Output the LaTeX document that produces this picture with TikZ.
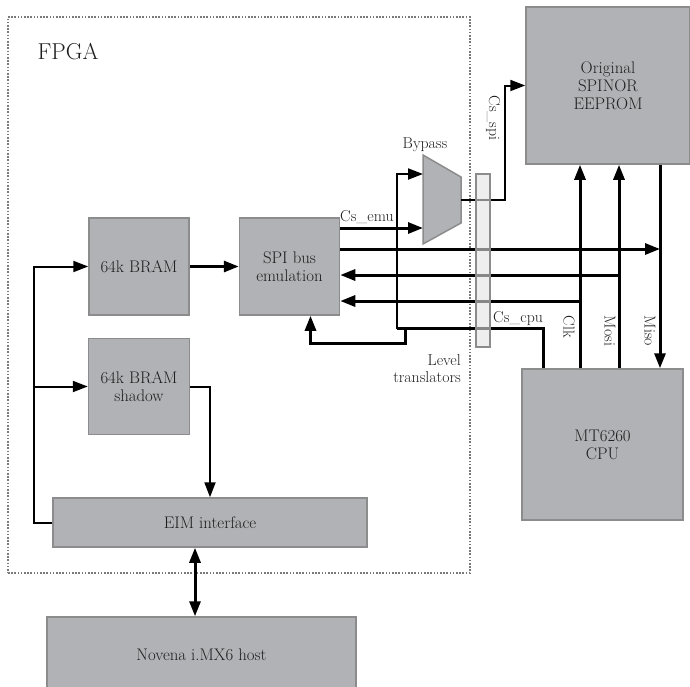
\documentclass[tikz,border=0pt]{standalone}
\usepackage{tikz}
\usetikzlibrary{arrows.meta,positioning}
\definecolor{boxfill}{HTML}{B1B2B5}
\definecolor{boxline}{HTML}{8C8C8C}
\definecolor{boxtext}{HTML}{1E1E1E}
\definecolor{barfill}{HTML}{E2E2E2}
\definecolor{dotline}{HTML}{7A7A7A}

\begin{document}
\begin{tikzpicture}[x=1pt, y=-1pt, >={Triangle[length=15pt,width=11pt]},
  blk/.style={draw=boxline, fill=boxfill, line width=1.5pt, text=boxtext, align=center, inner sep=0pt, font=\fontsize{16.8}{18}\selectfont},
  lbl/.style={text=boxtext, inner sep=0pt, font=\fontsize{15.8}{17.5}\selectfont},
  sig/.style={line width=3pt},
  wire/.style={line width=2pt}]
\clip (0,0) rectangle (690,686);
% FPGA frame
\node[draw=dotline, line width=1.8pt, dash pattern=on 1.6pt off 1.6pt, minimum width=462pt, minimum height=556pt, inner sep=0pt] (fpga) at (239,295) {};
\node[text=boxtext, inner sep=0pt, font=\fontsize{23}{26}\selectfont] (fpgalbl) at (68,52) {FPGA};
% blocks
\node[blk, minimum width=100pt, minimum height=97pt] (bram) at (139,266.5) {64k BRAM};
\node[blk, minimum width=100pt, minimum height=97pt, right=49pt of bram] (spi) {SPI bus\\emulation};
\node[blk, minimum width=101pt, minimum height=96pt, below=22pt of bram] (shadow) {64k BRAM\\shadow};
\node[blk, minimum width=314pt, minimum height=49pt] (eim) at (210,522.5) {EIM interface};
\node[blk, minimum width=309pt, minimum height=76pt] (host) at (201.5,655) {Novena i.MX6 host};
\node[blk, minimum width=164pt, minimum height=157pt] (flash) at (608,85.5) {Original\\SPINOR\\EEPROM};
\node[blk, minimum width=161pt, minimum height=151pt] (cpu) at (602.5,444.5) {MT6260\\CPU};
% bypass mux
\draw[fill=boxfill, draw=boxline, line width=1.5pt] (423,155) -- (461,177) -- (461,223) -- (423,244) -- cycle;
\coordinate (byp-a) at (423,174);
\coordinate (byp-b) at (423,228);
\coordinate (byp-o) at (461,200);
\node[lbl, anchor=base] (byplbl) at (425,148) {Bypass};
% inside FPGA
\draw[wire,->] (eim.west) -- ++(-18pt,0) coordinate (bus) |- (bram.west);
\draw[wire,->] (bus |- shadow.west) -- (shadow.west);
\draw[wire,->] (shadow.east) -| (eim.north);
\draw[sig,->] (bram) -- (spi);
\draw[sig,<->] ([xshift=-15pt]eim.south) -- ([xshift=-15pt]eim.south |- host.north);
% SPI signals
\coordinate (miso) at (660,249);
\coordinate (mosi) at (619,275);
\coordinate (clk) at (580,301);
\coordinate (cs) at (543,328);
\coordinate (csturn) at (397,328);
\coordinate (csret) at (405,343);
\coordinate (spics) at (505,200);
\draw[sig,->] (spi.east |- byp-b) -- (byp-b);
\node[lbl, anchor=base west] (csemu) at (340,221) {Cs\_emu};
\draw[wire,->] (byp-o) -- (spics) |- (flash.west);
\node[lbl, rotate=-90] (csspi) at (493,118) {Cs\_spi};
\draw[sig,->] (spi.east |- miso) -- (miso);
\draw[sig,->] (flash.south -| miso) -- (cpu.north -| miso);
\draw[sig,->] (mosi) -- (spi.east |- mosi);
\draw[sig,->] (cpu.north -| mosi) -- (flash.south -| mosi);
\draw[sig,->] (clk) -- (spi.east |- clk);
\draw[sig,->] (cpu.north -| clk) -- (flash.south -| clk);
\draw[sig] (cpu.north -| cs) -- (cs) -- (csturn);
\draw[wire,->,line cap=rect] (csturn) |- (byp-a);
\draw[sig,->] (csret |- cs) -- (csret) -| ([xshift=21pt]spi.south);
% level translators
\node[draw=boxline, fill=barfill, fill opacity=0.6, line width=1.2pt, minimum width=14pt, minimum height=173pt, inner sep=0pt] (lvl) at (483,260.5) {};
\node[lbl, align=right, anchor=north east] (lvllbl) at (461,354) {Level\\translators};
\node[lbl, anchor=base west] (cscpu) at (493,322) {Cs\_cpu};
\node[lbl, rotate=-90] (clklbl) at (569,327) {Clk};
\node[lbl, rotate=-90] (mosilbl) at (610,331) {Mosi};
\node[lbl, rotate=-90] (misolbl) at (650,331) {Miso};
\end{tikzpicture}
\end{document}
